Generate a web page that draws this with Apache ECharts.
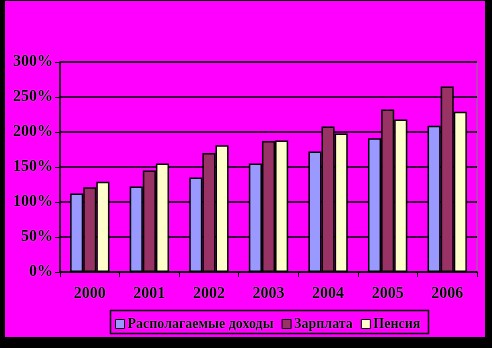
<!DOCTYPE html>
<html><head><meta charset="utf-8">
<script src="https://cdn.jsdelivr.net/npm/echarts@6/dist/echarts.min.js"></script>
<style>html,body{margin:0;padding:0;background:#000;}#c{width:492px;height:348px;}</style>
</head><body><div id="c"></div>
<script>
const categories = ['2000','2001','2002','2003','2004','2005','2006'];
const seriesNames = ['Располагаемые доходы','Зарплата','Пенсия'];
const income = [112, 122, 135, 155, 172, 191, 209];
const salary = [121, 145, 170, 187, 208, 232, 265];
const pension = [129, 155, 181, 188, 198, 218, 229];
const colors = ['#9999FF','#993366','#FFFFCC'];
const font = '"Liberation Serif", "Times New Roman", serif';
const chart = echarts.init(document.getElementById('c'), null, {renderer:'canvas'});
const txt = {color:'#000', fontFamily:font, fontWeight:'bold', fontSize:16, textShadowColor:'rgba(255,255,255,0.8)', textShadowBlur:1};
const mk = (name, data, i) => ({
  name, type:'bar', data, barGap:'0%', barCategoryGap:'34%',
  itemStyle:{color:colors[i], borderColor:'#000', borderWidth:1.5},
  emphasis:{disabled:true}, animation:false
});
chart.setOption({
  backgroundColor:'#000',
  animation:false,
  graphic:[{type:'rect', z:-10, shape:{x:5,y:1,width:480,height:336}, style:{fill:'#FF00FF'}},
           {type:'rect', z:-9, shape:{x:110.5,y:310.5,width:318,height:23}, style:{fill:'none', stroke:'#000', lineWidth:1.5}}],
  grid:{left:60, top:62, width:417, height:210, show:true, borderColor:'#808080', borderWidth:1, backgroundColor:'transparent'},
  legend:{left:115, top:317, padding:0, itemWidth:9, itemHeight:9, itemGap:8, icon:'rect',
    data:seriesNames.map((n,i)=>({name:n, itemStyle:{color:colors[i], borderColor:'#000', borderWidth:1}})),
    textStyle:Object.assign({}, txt, {fontSize:14, padding:[1,0,0,-2]}), selectedMode:false},
  xAxis:{type:'category', data:categories,
    axisLine:{lineStyle:{color:'#000', width:1.5}},
    axisTick:{show:true, length:5, lineStyle:{color:'#000'}},
    axisLabel:Object.assign({}, txt, {margin:14})},
  yAxis:{type:'value', min:0, max:300, interval:50,
    axisLine:{show:true, lineStyle:{color:'#000', width:1.5}},
    axisTick:{show:true, length:5, lineStyle:{color:'#000'}},
    splitLine:{lineStyle:{color:'#000', width:1.5}},
    axisLabel:Object.assign({}, txt, {formatter:'{value}%', margin:7})},
  series:[mk(seriesNames[0], income, 0), mk(seriesNames[1], salary, 1), mk(seriesNames[2], pension, 2)]
});
</script></body></html>
